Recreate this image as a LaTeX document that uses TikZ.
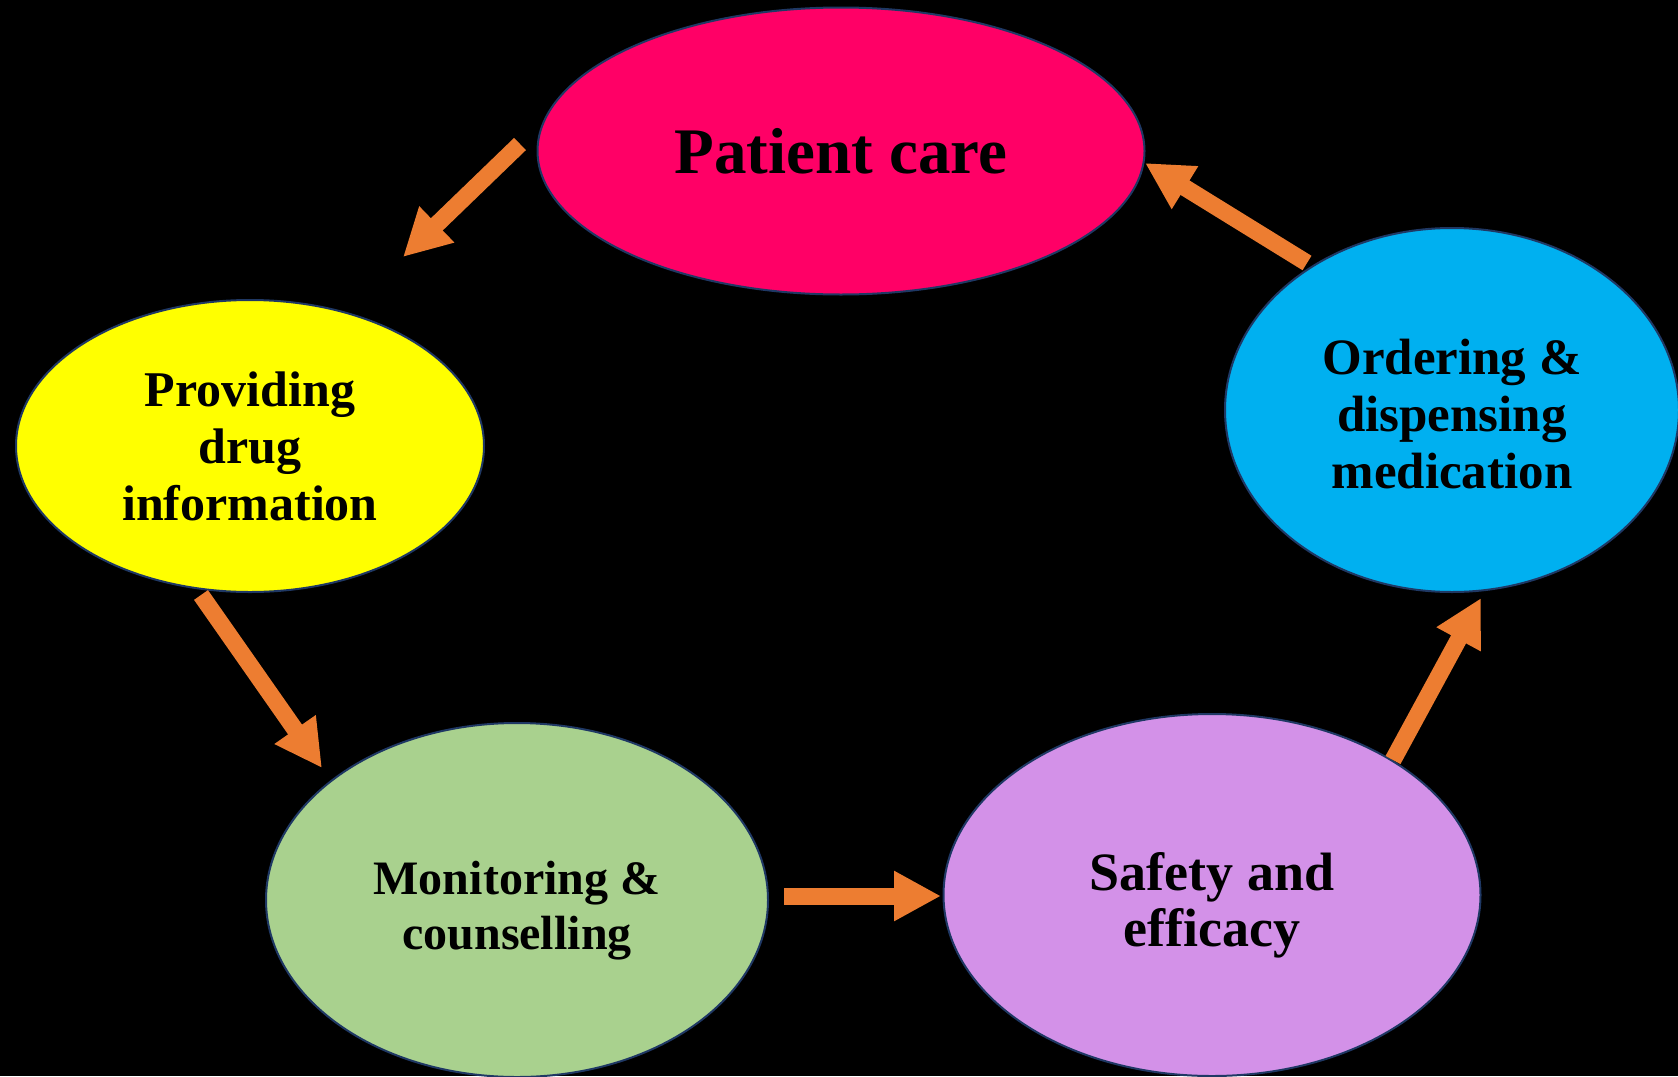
\documentclass[tikz,border=0pt]{standalone}
\usepackage{fontspec}
\setmainfont{Liberation Serif}
\usepackage{tikz}
\usetikzlibrary{shapes.geometric, arrows.meta}
\definecolor{CarePink}{RGB}{255,0,102}
\definecolor{InfoGelb}{RGB}{255,255,0}
\definecolor{OrderBlau}{RGB}{0,176,240}
\definecolor{MonitorGruen}{RGB}{169,209,142}
\definecolor{SafetyLila}{RGB}{211,145,232}
\definecolor{PfeilOrange}{RGB}{237,125,49}
\definecolor{RandBlau}{RGB}{31,56,100}

\begin{document}
\begin{tikzpicture}[x=1pt, y=-1pt,
    phase/.style={shape=ellipse, draw=RandBlau, line width=2pt, inner sep=0pt, align=center},
    pfeil/.style={line width=17pt, PfeilOrange, -{Triangle[length=47pt, width=47pt]}}]
    \fill[black] (0,0) rectangle (1678,1076);
    \useasboundingbox (0,0) rectangle (1678,1076);
    \node[phase, fill=CarePink, minimum width=607pt, minimum height=287pt, font=\bfseries\fontsize{65}{70}\selectfont] (care) at (841,151) {Patient care};
    \node[phase, fill=InfoGelb, minimum width=468pt, minimum height=292pt, font=\bfseries\fontsize{50}{57}\selectfont] (info) at (250,446) {Providing\\drug\\information};
    \node[phase, fill=MonitorGruen, minimum width=502pt, minimum height=354pt, font=\bfseries\fontsize{48}{55}\selectfont] (monitor) at (517,900) {\rule{0pt}{54pt}Monitoring \&\\counselling};
    \node[phase, fill=SafetyLila, minimum width=537pt, minimum height=362pt, font=\bfseries\fontsize{54}{56}\selectfont] (safety) at (1212,895) {\rule{0pt}{58pt}Safety and\\efficacy};
    \node[phase, fill=OrderBlau, minimum width=454pt, minimum height=364pt, font=\bfseries\fontsize{51}{57}\selectfont] (order) at (1452,410) {\rule{0pt}{44pt}Ordering \&\\dispensing\\medication};
    % arrow ends
    \coordinate (a1s) at (520,144);  \coordinate (a1e) at (403,257);
    \coordinate (a2s) at (201,595);  \coordinate (a2e) at (322,768);
    \coordinate (a3s) at (784,896);  \coordinate (a3e) at (941,896);
    \coordinate (a4s) at (1393,760); \coordinate (a4e) at (1481,598);
    \coordinate (a5s) at (1307,263); \coordinate (a5e) at (1145,163);
    \draw[pfeil] (a1s) -- (a1e);
    \draw[pfeil] (a2s) -- (a2e);
    \draw[pfeil] (a3s) -- (a3e);
    \draw[pfeil] (a4s) -- (a4e);
    \draw[pfeil] (a5s) -- (a5e);
\end{tikzpicture}
\end{document}
